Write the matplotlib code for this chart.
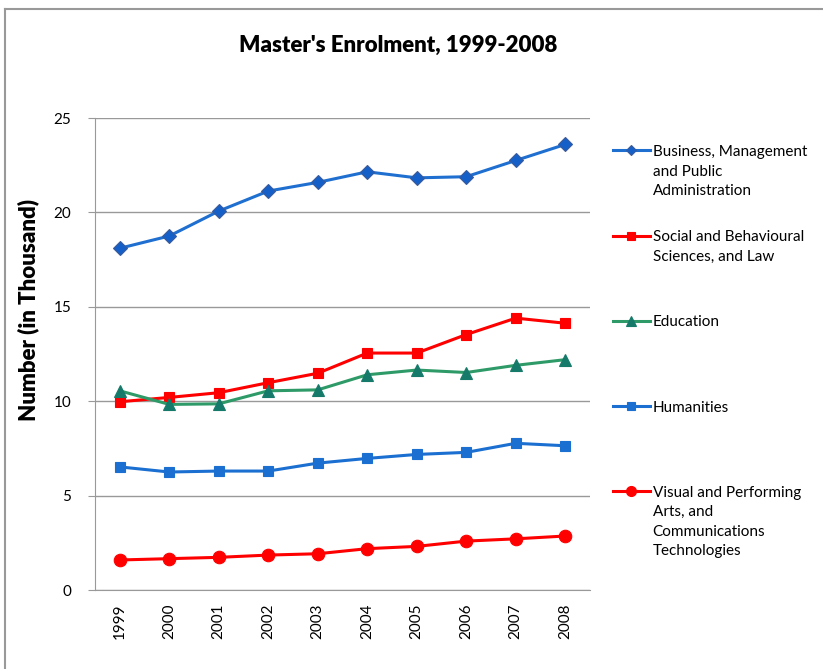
import numpy as np
import matplotlib.pyplot as plt
from matplotlib.lines import Line2D

years = ["1999", "2000", "2001", "2002", "2003", "2004", "2005", "2006", "2007", "2008"]

business = [18.1, 18.75, 20.07, 21.13, 21.59, 22.15, 21.83, 21.89, 22.75, 23.6]
social = [9.97, 10.2, 10.45, 10.98, 11.48, 12.55, 12.55, 13.53, 14.4, 14.13]
education = [10.55, 9.83, 9.86, 10.55, 10.6, 11.4, 11.65, 11.52, 11.9, 12.2]
humanities = [6.52, 6.25, 6.3, 6.3, 6.72, 6.97, 7.18, 7.29, 7.77, 7.64]
visual = [1.59, 1.66, 1.73, 1.85, 1.92, 2.19, 2.31, 2.59, 2.71, 2.86]

labels = ["Business, Management\nand Public\nAdministration",
          "Social and Behavioural\nSciences, and Law",
          "Education",
          "Humanities",
          "Visual and Performing\nArts, and\nCommunications\nTechnologies"]

plt.rcParams['font.family'] = ['Lato', 'DejaVu Sans']

fig = plt.figure(figsize=(8.23, 6.69), dpi=100)
ax = fig.add_axes([95 / 823, 1 - 590 / 669, 495 / 823, 472 / 669])

x = np.arange(len(years))
# серии: значения, цвет линии, маркер, размер маркера, цвет маркера
series = [
    (business, "#1f6fd0", "D", 7, "#3a5a9a"),
    (social, "#ff0000", "s", 7, "#ff0000"),
    (education, "#2e9a68", "^", 9, "#167a6a"),
    (humanities, "#1a6fd0", "s", 7, "#1a6fd0"),
    (visual, "#ff0000", "o", 9, "#ff0000"),
]
handles = []
for (vals, col, mk, ms, mfc), lab in zip(series, labels):
    h, = ax.plot(x, vals, color=col, lw=2.2, marker=mk, ms=ms,
                 mfc=mfc if mk != "D" else "#1560c8", mec=mfc, mew=0.8,
                 label=lab)
    handles.append(h)

ax.set_xlim(-0.5, len(years) - 0.5)
ax.set_ylim(0, 25)
ax.set_yticks([0, 5, 10, 15, 20, 25])
ax.set_xticks(x)
ax.set_xticklabels(years, rotation=90, fontsize=11)
ax.tick_params(axis='y', labelsize=11, length=5, color="#999999", pad=12)
ax.tick_params(axis='x', length=0, pad=10)
ax.grid(axis='y', color="#999999", lw=1)
ax.set_axisbelow(True)
for s in ["top", "right"]:
    ax.spines[s].set_visible(False)
for s in ["left", "bottom"]:
    ax.spines[s].set_color("#999999")

ax.set_ylabel("Number (in Thousand)", fontsize=16, fontweight="heavy")
ax.yaxis.set_label_coords(-0.113, 0.593)
fig.text(398 / 823, 1 - 45 / 669, "Master's Enrolment, 1999-2008",
         ha="center", va="center", fontsize=16, fontweight="heavy")

# все подписи легенды по 4 строки, чтобы шаг был равный
padded = [lab + "\n" * (3 - lab.count("\n")) for lab in labels]
leg = fig.legend(handles, padded, loc="upper left",
                 bbox_to_anchor=(613 / 823, 1 - 145 / 669),
                 frameon=False, fontsize=11, handlelength=2.4,
                 handletextpad=0.2, labelspacing=0.83, borderpad=0,
                 borderaxespad=0, markerscale=0.8)
for t in leg.get_texts():
    t.set_linespacing(1.5)
for col in leg._legend_handle_box.get_children():
    for item in col.get_children():
        item.align = "top"

# рамка графика (верх и лево)
fig.add_artist(Line2D([5 / 823, 1], [1 - 9 / 669, 1 - 9 / 669],
                      transform=fig.transFigure, color="#999999", lw=1.5))
fig.add_artist(Line2D([5 / 823, 5 / 823], [0, 1 - 9 / 669],
                      transform=fig.transFigure, color="#999999", lw=1.5))

fig.savefig("out.png", dpi=100)
